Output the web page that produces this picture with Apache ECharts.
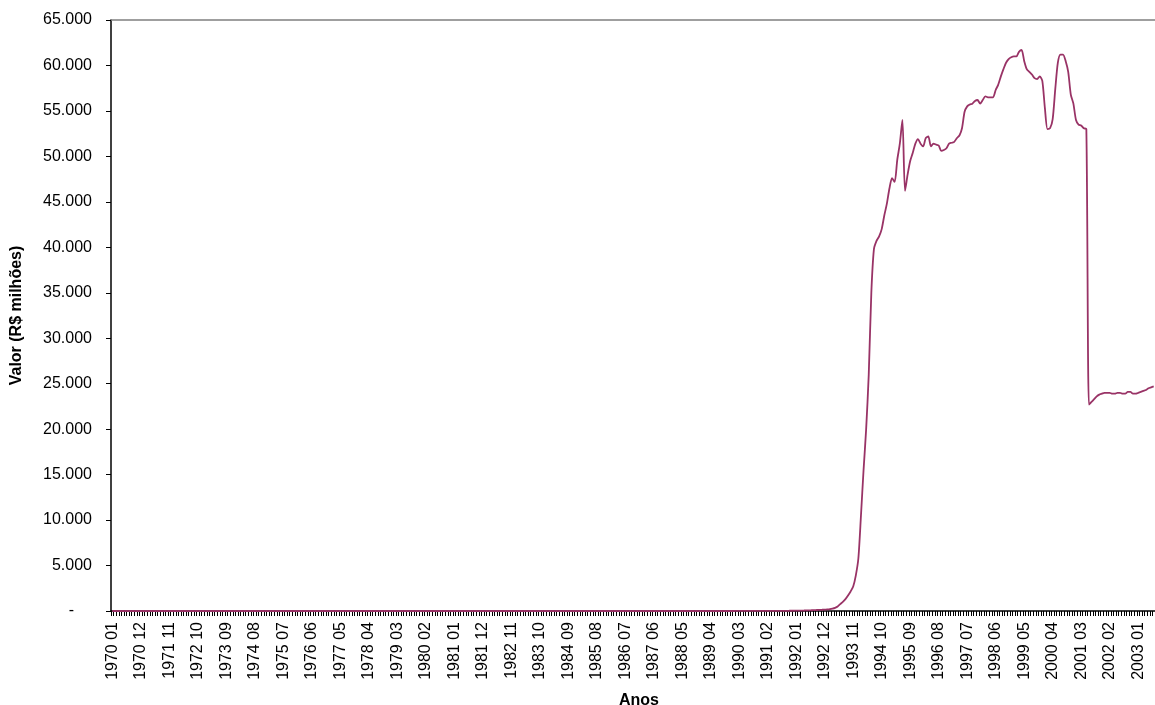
<!DOCTYPE html>
<html lang="pt-BR">
<head>
<meta charset="utf-8">
<title>Valor mensal (R$ milhões), 1970–2003</title>
<script src="https://cdn.jsdelivr.net/npm/echarts@6/dist/echarts.min.js"></script>
<style>
  html, body { margin: 0; padding: 0; background: #ffffff; }
  #grafico { width: 1155px; height: 705px; }
</style>
</head>
<body>
<div id="grafico"></div>
<script>
// Série mensal a partir de janeiro de 1970 (R$ milhões)
const anoInicial = 1970;

// Uma linha por ano, de janeiro a dezembro
const valoresMensais = [
  /* 1970 */ [0, 0, 0, 0, 0, 0, 0, 0, 0, 0, 0, 0],
  /* 1971 */ [0, 0, 0, 0, 0, 0, 0, 0, 0, 0, 0, 0],
  /* 1972 */ [0, 0, 0, 0, 0, 0, 0, 0, 0, 0, 0, 0],
  /* 1973 */ [0, 0, 0, 0, 0, 0, 0, 0, 0, 0, 0, 0],
  /* 1974 */ [0, 0, 0, 0, 0, 0, 0, 0, 0, 0, 0, 0],
  /* 1975 */ [0, 0, 0, 0, 0, 0, 0, 0, 0, 0, 0, 0],
  /* 1976 */ [0, 0, 0, 0, 0, 0, 0, 0, 0, 0, 0, 0],
  /* 1977 */ [0, 0, 0, 0, 0, 0, 0, 0, 0, 0, 0, 0],
  /* 1978 */ [0, 0, 0, 0, 0, 0, 0, 0, 0, 0, 0, 0],
  /* 1979 */ [0, 0, 0, 0, 0, 0, 0, 0, 0, 0, 0, 0],
  /* 1980 */ [0, 0, 0, 0, 0, 0, 0, 0, 0, 0, 0, 0],
  /* 1981 */ [0, 0, 0, 0, 0, 0, 0, 0, 0, 0, 0, 0],
  /* 1982 */ [0, 0, 0, 0, 0, 0, 0, 0, 0, 0, 0, 0],
  /* 1983 */ [0, 0, 0, 0, 0, 0, 0, 0, 0, 0, 0, 0],
  /* 1984 */ [0, 0, 0, 0, 0, 0, 0, 0, 0, 0, 0, 0],
  /* 1985 */ [0, 0, 0, 0, 0, 0, 0, 0, 0, 0, 0, 0],
  /* 1986 */ [0, 0, 0, 0, 0, 0, 0, 0, 0, 0, 0, 0],
  /* 1987 */ [0, 0, 0, 0, 0, 0, 0, 0, 0, 0, 0, 0],
  /* 1988 */ [0, 0, 0, 0, 0, 0, 0, 0, 0, 0, 0, 0],
  /* 1989 */ [0.1, 0.1, 0.1, 0.2, 0.2, 0.3, 0.4, 0.5, 0.7, 0.9, 1.2, 1.6],
  /* 1990 */ [2.5, 3.5, 5, 5, 5, 5.5, 6, 6.5, 7, 7.5, 8, 9],
  /* 1991 */ [10, 11, 12, 13, 14, 15, 16, 18, 20, 23, 27, 31],
  /* 1992 */ [36, 42, 48, 55, 63, 72, 83, 95, 108, 122, 138, 155],
  /* 1993 */ [170, 200, 260, 350, 500, 760, 1000, 1300, 1700, 2150, 2700, 3900],
  /* 1994 */ [5800, 10500, 15500, 20000, 26000, 35000, 39800, 40700, 41200, 42000, 43500, 44800],
  /* 1995 */ [46500, 47600, 47200, 49600, 51400, 54000, 46200, 48000, 49500, 50400, 51400, 51900],
  /* 1996 */ [51400, 51100, 52000, 52200, 51100, 51400, 51300, 51200, 50600, 50700, 50900, 51400],
  /* 1997 */ [51500, 51600, 52000, 52300, 53100, 54900, 55500, 55700, 55800, 56100, 56200, 55800],
  /* 1998 */ [56200, 56600, 56500, 56500, 56500, 57300, 57900, 58800, 59600, 60300, 60700, 60900],
  /* 1999 */ [61000, 61000, 61500, 61700, 60500, 59600, 59300, 59000, 58600, 58500, 58800, 58300],
  /* 2000 */ [55300, 53000, 53100, 54100, 57400, 60300, 61200, 61200, 60500, 59300, 56800, 55800],
  /* 2001 */ [54000, 53500, 53400, 53100, 53000, 22700, 23000, 23300, 23600, 23800, 23900, 24000],
  /* 2002 */ [24000, 24000, 23900, 23900, 24000, 24000, 23900, 23900, 24100, 24100, 23900, 23900],
  /* 2003 */ [24000, 24100, 24200, 24300, 24500, 24600, 24700]
];

// Escala do eixo de valores
const eixoMin = 0;
const eixoMax = 65000;
const eixoPasso = 5000;

// Um rótulo de categoria a cada 11 meses
const passoRotulos = 11;

const valores = valoresMensais.flat();
const categorias = valores.map(function (_, k) {
  const ano = anoInicial + Math.floor(k / 12);
  const mes = (k % 12) + 1;
  return ano + ' ' + (mes < 10 ? '0' + mes : String(mes));
});

function formatarMilhar(v) {
  if (v === 0) return '{traco|-}';
  return String(v).replace(/\B(?=(\d{3})+(?!\d))/g, '.');
}

const fonte = "'Liberation Sans', Arial, Helvetica, sans-serif";

const grafico = echarts.init(document.getElementById('grafico'), null, { renderer: 'canvas' });

grafico.setOption({
  backgroundColor: '#ffffff',
  animation: false,
  textStyle: { fontFamily: fonte, color: '#000000' },
  grid: { left: 111, right: 0, top: 20, bottom: 94, containLabel: false, outerBoundsMode: 'none' },
  xAxis: [
    {
      type: 'category',
      data: categorias,
      boundaryGap: true,
      name: 'Anos',
      nameLocation: 'middle',
      nameGap: 82,
      nameTextStyle: { fontFamily: fonte, fontSize: 16, fontWeight: 'bold', color: '#000000', padding: [0, 0, 0, 12] },
      axisLine: { show: true, lineStyle: { color: '#000000', width: 1.5 } },
      axisTick: { show: true, interval: 0, alignWithLabel: false, length: 5, lineStyle: { color: '#000000', width: 1 } },
      axisLabel: {
        interval: passoRotulos - 1,
        rotate: 90,
        margin: 11,
        fontFamily: fonte,
        fontSize: 16,
        color: '#000000'
      },
      splitLine: { show: false }
    },
    {
      // borda superior da área de plotagem
      type: 'category',
      data: categorias,
      position: 'top',
      axisLine: { show: true, lineStyle: { color: '#808080', width: 1.5 } },
      axisTick: { show: false },
      axisLabel: { show: false },
      splitLine: { show: false }
    }
  ],
  yAxis: {
    type: 'value',
    min: eixoMin,
    max: eixoMax,
    interval: eixoPasso,
    name: 'Valor (R$ milhões)',
    nameLocation: 'middle',
    nameGap: 86,
    nameRotate: 90,
    nameTextStyle: { fontFamily: fonte, fontSize: 16, fontWeight: 'bold', color: '#000000' },
    axisLine: { show: true, lineStyle: { color: '#000000', width: 1.5 } },
    axisTick: { show: true, length: 5, lineStyle: { color: '#000000', width: 1 } },
    axisLabel: {
      margin: 19,
      fontFamily: fonte,
      fontSize: 16,
      color: '#000000',
      formatter: formatarMilhar,
      rich: { traco: { fontFamily: fonte, fontSize: 16, color: '#000000', padding: [0, 18, 0, 0] } }
    },
    splitLine: { show: false }
  },
  series: [
    {
      type: 'line',
      data: valores,
      xAxisIndex: 0,
      showSymbol: false,
      smooth: 0.25,
      lineStyle: { color: '#993366', width: 1.8 },
      itemStyle: { color: '#993366' },
      emphasis: { disabled: true }
    }
  ]
});
</script>
</body>
</html>
